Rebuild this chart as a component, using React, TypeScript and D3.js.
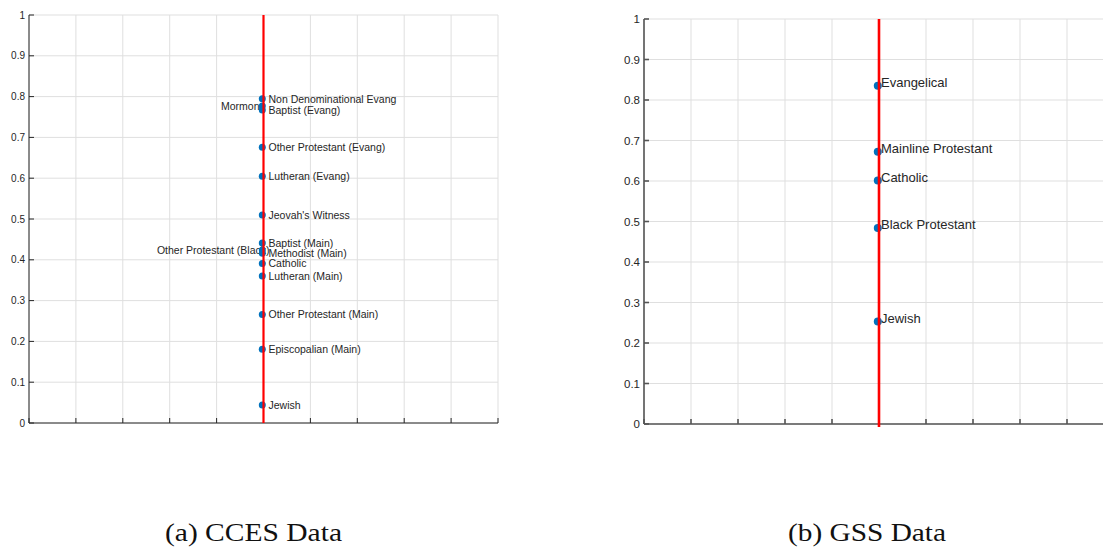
import React from "react";
import * as d3 from "d3";

// CCES religious groups and their estimated positions
const ccesGroups = [
  "Non Denominational Evang",
  "Mormon",
  "Baptist (Evang)",
  "Other Protestant (Evang)",
  "Lutheran (Evang)",
  "Jeovah's Witness",
  "Baptist (Main)",
  "Other Protestant (Black)",
  "Methodist (Main)",
  "Catholic",
  "Lutheran (Main)",
  "Other Protestant (Main)",
  "Episcopalian (Main)",
  "Jewish",
];
const ccesValues = [0.795, 0.777, 0.767, 0.676, 0.605, 0.51, 0.441, 0.424, 0.416, 0.391, 0.36, 0.266, 0.181, 0.044];

// GSS religious traditions and their estimated positions
const gssGroups = ["Evangelical", "Mainline Protestant", "Catholic", "Black Protestant", "Jewish"];
const gssValues = [0.835, 0.672, 0.601, 0.484, 0.253];

const yTicks = [0, 0.1, 0.2, 0.3, 0.4, 0.5, 0.6, 0.7, 0.8, 0.9, 1];
const xTicks = d3.range(-1, 1.0001, 0.2);

const captions = ["(a) CCES Data", "(b) GSS Data"];

const BLUE = "#0072BD";
const GRID = "#dfdfdf";
const TEXT = "#262626";

type PanelProps = {
  left: number;
  right: number;
  top: number;
  bottom: number;
  groups: string[];
  values: number[];
  tickFont: number;
  labelFont: number;
  dotR: number;
  axisColor: string;
  axisWidth: number;
  redWidth: number;
  redOvershoot: number;
  labelMode: "middle" | "above";
  leftLabelled?: Set<string>;
};

function Panel(p: PanelProps) {
  const x = d3.scaleLinear().domain([-1, 1]).range([p.left, p.right]);
  const y = d3.scaleLinear().domain([0, 1]).range([p.bottom, p.top]);
  const x0 = x(0);
  const xDot = x0 - 1.2;
  return (
    <g>
      {/* grid */}
      {yTicks.map((t) => (
        <line key={"gy" + t} x1={p.left} x2={p.right} y1={y(t)} y2={y(t)} stroke={GRID} strokeWidth={1} />
      ))}
      {xTicks.map((t, i) => (
        <line key={"gx" + i} x1={x(t)} x2={x(t)} y1={p.top} y2={p.bottom} stroke={GRID} strokeWidth={1} />
      ))}
      {/* axes */}
      <line x1={p.left} x2={p.left} y1={p.top} y2={p.bottom} stroke={p.axisColor} strokeWidth={p.axisWidth} />
      <line x1={p.left} x2={p.right} y1={p.bottom} y2={p.bottom} stroke={p.axisColor} strokeWidth={p.axisWidth} />
      {yTicks.map((t) => (
        <g key={"ty" + t}>
          <line x1={p.left} x2={p.left + 5} y1={y(t)} y2={y(t)} stroke={p.axisColor} strokeWidth={p.axisWidth} />
          <text
            x={p.left - 4}
            y={y(t)}
            textAnchor="end"
            dominantBaseline="central"
            fontSize={p.tickFont}
            fill={TEXT}
            fontFamily="Liberation Sans, Arial, sans-serif"
          >
            {d3.format("~g")(t)}
          </text>
        </g>
      ))}
      {xTicks.map((t, i) => (
        <line key={"tx" + i} x1={x(t)} x2={x(t)} y1={p.bottom} y2={p.bottom - 5} stroke={p.axisColor} strokeWidth={p.axisWidth} />
      ))}
      {/* labels */}
      {p.groups.map((g, i) => {
        const onLeft = p.leftLabelled?.has(g);
        const yy = y(p.values[i]);
        return (
          <text
            key={"l" + g}
            x={onLeft ? (g === "Mormon" ? x0 - 4 : x0 + 6) : x0 + (p.labelMode === "above" ? 2 : 5)}
            y={p.labelMode === "above" ? yy + 1 : yy}
            textAnchor={onLeft ? "end" : "start"}
            dominantBaseline={p.labelMode === "above" ? "auto" : "central"}
            fontSize={p.labelFont}
            fill={TEXT}
            fontFamily="Liberation Sans, Arial, sans-serif"
          >
            {g}
          </text>
        );
      })}
      {/* points */}
      {p.values.map((v, i) => (
        <circle key={"c" + i} cx={xDot} cy={y(v)} r={p.dotR} fill={BLUE} />
      ))}
      {/* reference line */}
      <line x1={x0} x2={x0} y1={y(1)} y2={y(0) + p.redOvershoot} stroke="#ff0000" strokeWidth={p.redWidth} />
    </g>
  );
}

export default function App() {
  return (
    <svg
      width={1103}
      height={548}
      style={{ position: "absolute", left: 0, top: 0, background: "#fff" }}
    >
      <rect width={1103} height={548} fill="#fff" />
      <Panel
        left={29}
        right={498}
        top={15}
        bottom={423}
        groups={ccesGroups}
        values={ccesValues}
        tickFont={10}
        labelFont={10.5}
        dotR={3.5}
        axisColor="#262626"
        axisWidth={1}
        redWidth={2.2}
        redOvershoot={0}
        labelMode="middle"
        leftLabelled={new Set(["Mormon", "Other Protestant (Black)"])}
      />
      <Panel
        left={644}
        right={1114}
        top={19}
        bottom={424}
        groups={gssGroups}
        values={gssValues}
        tickFont={11.5}
        labelFont={13}
        dotR={4}
        axisColor="#555555"
        axisWidth={1.6}
        redWidth={2.6}
        redOvershoot={3}
        labelMode="above"
      />
      {captions.map((c, i) => (
        <text
          key={c}
          x={i === 0 ? 253.5 : 867}
          y={541}
          textAnchor="middle"
          fontSize={25}
          fontFamily="Liberation Serif, Times New Roman, serif"
          fill="#111"
          textLength={i === 0 ? 177 : 158}
          lengthAdjust="spacingAndGlyphs"
        >
          {c}
        </text>
      ))}
    </svg>
  );
}
